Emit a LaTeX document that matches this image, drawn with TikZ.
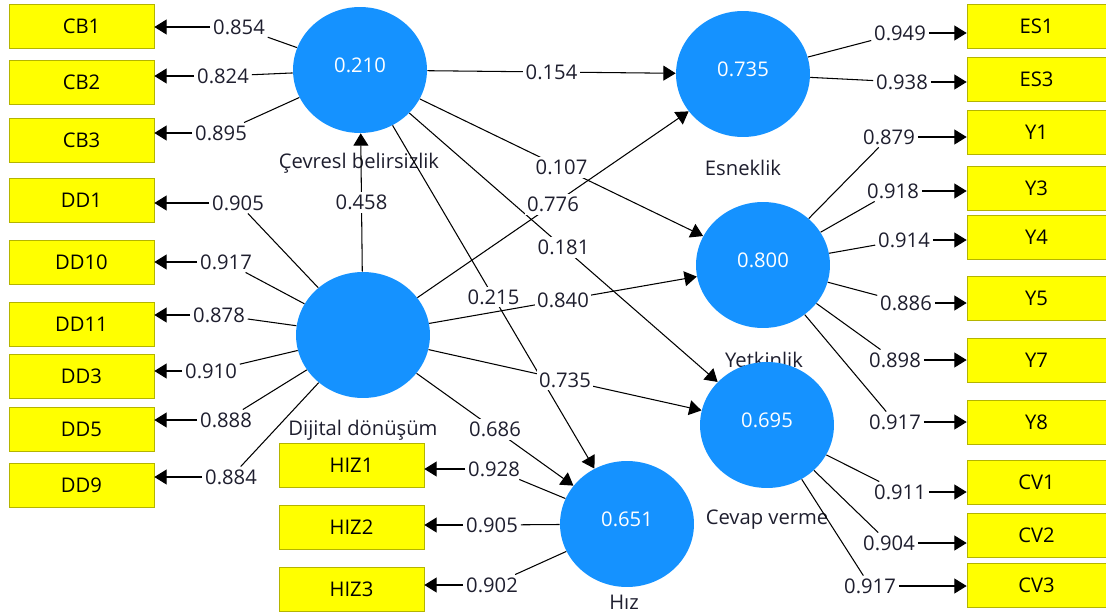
\documentclass[tikz,border=0pt]{standalone}
\usepackage{fontspec}
\setmainfont{Open Sans}
\usetikzlibrary{positioning,arrows.meta,shapes.geometric}
\definecolor{cBlue}{HTML}{1592FF}
\definecolor{cYellow}{HTML}{FFFF00}
\definecolor{cOlive}{HTML}{B4B400}
\definecolor{cInk}{HTML}{1E1E2E}

\begin{document}
\begin{tikzpicture}[x=0.02cm,y=-0.02cm,font=\fontsize{11.5}{13}\selectfont,text=cInk,
    latent/.style={ellipse,fill=cBlue,text=white,minimum width=2.68cm,
                   minimum height=2.52cm,inner sep=0pt},
    item/.style={draw=cOlive,fill=cYellow,minimum width=2.9cm,
                 minimum height=0.88cm,inner sep=0pt,text=black},
    ritem/.style={item,minimum width=2.78cm},
    wt/.style={fill=white,inner sep=1.5pt},
    ln/.style={line width=0.6pt},
    arr/.style={ln,-{Triangle[length=7pt,width=8.5pt]}}]
    \useasboundingbox (0,0) rectangle (1106,612);

    % construct names (under the circles)
    \node (ncb) at (359,163) {Çevresl belirsizlik};
    \node (ndd) at (363,430) {Dijital dönüşüm};
    \node (nes) at (743,168) {Esneklik};
    \node (nyt) at (764,360) {Yetkinlik};
    \node (ncv) at (767,520) {Cevap verme};
    \node (nhz) at (624,602) {Hız};

    % constructs
    \node[latent] (cb) at (360,70)  {\raisebox{6pt}{0.210}};
    \node[latent] (dd) at (363,335) {};
    \node[latent] (es) at (743,74)  {\raisebox{6pt}{0.735}};
    \node[latent] (yt) at (763,265) {\raisebox{6pt}{0.800}};
    \node[latent] (cv) at (767,425) {\raisebox{6pt}{0.695}};
    \node[latent] (hz) at (627,524) {\raisebox{6pt}{0.651}};

    % indicators
    \node[item] (cb1)  at (81.5,26)  {CB1};
    \node[item] (cb2)  at (81.5,82)  {CB2};
    \node[item] (cb3)  at (81.5,140) {CB3};
    \node[item] (dd1)  at (81.5,200) {DD1};
    \node[item] (dd10) at (81.5,262) {DD10};
    \node[item] (dd11) at (81.5,324) {DD11};
    \node[item] (dd3)  at (81.5,376) {DD3};
    \node[item] (dd5)  at (81.5,429) {DD5};
    \node[item] (dd9)  at (81.5,485) {DD9};
    \node[item] (hiz1) at (351.5,465) {HIZ1};
    \node[item] (hiz2) at (351.5,527) {HIZ2};
    \node[item] (hiz3) at (351.5,589) {HIZ3};
    \node[ritem] (es1) at (1036.5,26)  {ES1};
    \node[ritem] (es3) at (1036.5,79)  {ES3};
    \node[ritem] (y1)  at (1036.5,132) {Y1};
    \node[ritem] (y3)  at (1036.5,188) {Y3};
    \node[ritem] (y4)  at (1036.5,237) {Y4};
    \node[ritem] (y5)  at (1036.5,298) {Y5};
    \node[ritem] (y7)  at (1036.5,360) {Y7};
    \node[ritem] (y8)  at (1036.5,422) {Y8};
    \node[ritem] (cv1) at (1036.5,482) {CV1};
    \node[ritem] (cv2) at (1036.5,535) {CV2};
    \node[ritem] (cv3) at (1036.5,585) {CV3};

    % outer loadings
    \node[wt] (wcb1)  at (239,27)  {0.854};
    \node[wt] (wcb2)  at (223,76)  {0.824};
    \node[wt] (wcb3)  at (221,133) {0.895};
    \node[wt] (wdd1)  at (238,203) {0.905};
    \node[wt] (wdd10) at (226,262) {0.917};
    \node[wt] (wdd11) at (219,315) {0.878};
    \node[wt] (wdd3)  at (211,371) {0.910};
    \node[wt] (wdd5)  at (226,420) {0.888};
    \node[wt] (wdd9)  at (231,477) {0.884};
    \node[wt] (whiz1) at (494,469) {0.928};
    \node[wt] (whiz2) at (492,525) {0.905};
    \node[wt] (whiz3) at (492,585) {0.902};
    \node[wt] (wes1)  at (900,33)  {0.949};
    \node[wt] (wes3)  at (902,82)  {0.938};
    \node[wt] (wy1)   at (889,137) {0.879};
    \node[wt] (wy3)   at (893,191) {0.918};
    \node[wt] (wy4)   at (904,240) {0.914};
    \node[wt] (wy5)   at (906,303) {0.886};
    \node[wt] (wy7)   at (895,360) {0.898};
    \node[wt] (wy8)   at (895,422) {0.917};
    \node[wt] (wcv1)  at (900,492) {0.911};
    \node[wt] (wcv2)  at (889,543) {0.904};
    \node[wt] (wcv3)  at (870,586) {0.917};

    \draw[ln] (cb) -- (wcb1);  \draw[arr] (wcb1) -- (wcb1 -| cb1.east);
    \draw[ln] (cb) -- (wcb2);  \draw[arr] (wcb2) -- (wcb2 -| cb2.east);
    \draw[ln] (cb) -- (wcb3);  \draw[arr] (wcb3) -- (wcb3 -| cb3.east);
    \draw[ln] (dd) -- (wdd1);  \draw[arr] (wdd1) -- (wdd1 -| dd1.east);
    \draw[ln] (dd) -- (wdd10); \draw[arr] (wdd10) -- (wdd10 -| dd10.east);
    \draw[ln] (dd) -- (wdd11); \draw[arr] (wdd11) -- (wdd11 -| dd11.east);
    \draw[ln] (dd) -- (wdd3);  \draw[arr] (wdd3) -- (wdd3 -| dd3.east);
    \draw[ln] (dd) -- (wdd5);  \draw[arr] (wdd5) -- (wdd5 -| dd5.east);
    \draw[ln] (dd) -- (wdd9);  \draw[arr] (wdd9) -- (wdd9 -| dd9.east);
    \draw[ln] (hz) -- (whiz1); \draw[arr] (whiz1) -- (whiz1 -| hiz1.east);
    \draw[ln] (hz) -- (whiz2); \draw[arr] (whiz2) -- (whiz2 -| hiz2.east);
    \draw[ln] (hz) -- (whiz3); \draw[arr] (whiz3) -- (whiz3 -| hiz3.east);
    \draw[ln] (es) -- (wes1);  \draw[arr] (wes1) -- (wes1 -| es1.west);
    \draw[ln] (es) -- (wes3);  \draw[arr] (wes3) -- (wes3 -| es3.west);
    \draw[ln] (yt) -- (wy1);   \draw[arr] (wy1) -- (wy1 -| y1.west);
    \draw[ln] (yt) -- (wy3);   \draw[arr] (wy3) -- (wy3 -| y3.west);
    \draw[ln] (yt) -- (wy4);   \draw[arr] (wy4) -- (wy4 -| y4.west);
    \draw[ln] (yt) -- (wy5);   \draw[arr] (wy5) -- (wy5 -| y5.west);
    \draw[ln] (yt) -- (wy7);   \draw[arr] (wy7) -- (wy7 -| y7.west);
    \draw[ln] (yt) -- (wy8);   \draw[arr] (wy8) -- (wy8 -| y8.west);
    \draw[ln] (cv) -- (wcv1);  \draw[arr] (wcv1) -- (wcv1 -| cv1.west);
    \draw[ln] (cv) -- (wcv2);  \draw[arr] (wcv2) -- (wcv2 -| cv2.west);
    \draw[ln] (cv) -- (wcv3);  \draw[arr] (wcv3) -- (wcv3 -| cv3.west);

    % path coefficients
    \draw[arr] (dd) -- node[wt]{0.458} (cb);
    \draw[arr] (cb) -- node[wt]{0.154} (es);
    \draw[arr] (cb) -- node[wt]{0.107} (yt);
    \draw[arr] (cb) -- node[wt]{0.181} (cv);
    \draw[arr] (cb) -- node[wt]{0.215} (hz);
    \draw[arr] (dd) -- node[wt]{0.776} (es);
    \draw[arr] (dd) -- node[wt]{0.840} (yt);
    \draw[arr] (dd) -- node[wt]{0.735} (cv);
    \draw[arr] (dd) -- node[wt]{0.686} (hz);
\end{tikzpicture}
\end{document}
